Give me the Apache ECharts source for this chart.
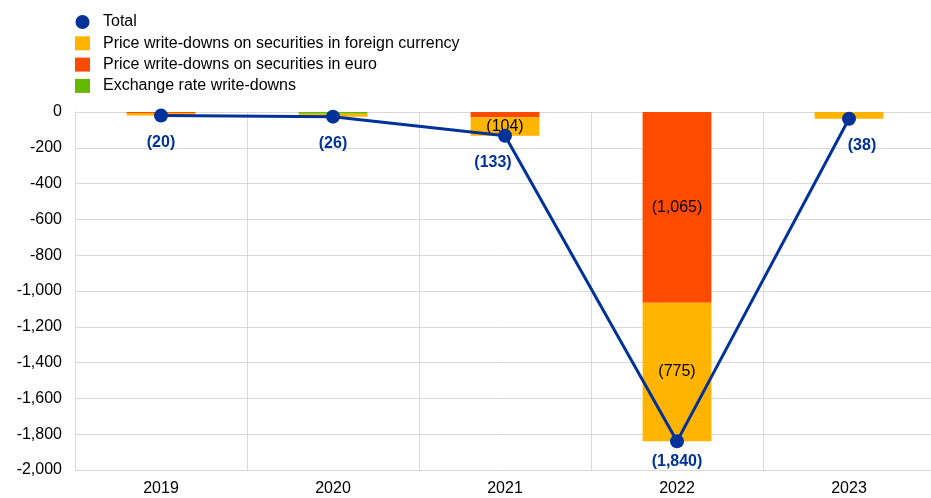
<!DOCTYPE html>
<html>
<head>
<meta charset="utf-8">
<script src="https://cdn.jsdelivr.net/npm/echarts@6/dist/echarts.min.js"></script>
<style>html,body{margin:0;padding:0;background:#fff}#c{width:931px;height:498px}</style>
</head>
<body>
<div id="c"></div>
<script>
var years = ['2019', '2020', '2021', '2022', '2023'];
var exchangeRate = [0, -10, 0, 0, 0];
var priceEuro = [-6, 0, -29, -1065, 0];
var priceForeign = [-14, -16, -104, -775, -38];
var total = [-20, -26, -133, -1840, -38];
var yTicks = [0, -200, -400, -600, -800, -1000, -1200, -1400, -1600, -1800, -2000];

var blue = '#003299', yellow = '#FFB400', red = '#FF4B00', green = '#65B800';
var font = 'Liberation Sans, Arial, sans-serif';

function fmt(v) {
  return '(' + Math.abs(v).toLocaleString('en-US') + ')';
}
var totalLabelPos = [
  {offset: [0, 0]}, {offset: [0, 0]}, {offset: [-12, 0]}, {offset: [0, -7]}, {offset: [13, 0]}
];

var chart = echarts.init(document.getElementById('c'), null, {renderer: 'canvas'});
chart.setOption({
  animation: false,
  textStyle: {fontFamily: font},
  legend: {
    orient: 'vertical', left: 70, top: 9, itemGap: 5.3, itemWidth: 15, itemHeight: 14,
    textStyle: {fontSize: 16, color: '#000', fontFamily: font, padding: [0, 0, 0, 8]},
    data: [
      {name: 'Total', icon: 'circle'},
      {name: 'Price write-downs on securities in foreign currency', icon: 'rect'},
      {name: 'Price write-downs on securities in euro', icon: 'rect'},
      {name: 'Exchange rate write-downs', icon: 'rect'}
    ]
  },
  grid: {left: 75, width: 860, top: 112, bottom: 28, outerBoundsMode: 'none', containLabel: false},
  xAxis: {
    type: 'category', data: years, position: 'bottom',
    axisLine: {show: true, lineStyle: {color: '#d9d9d9'}},
    axisTick: {show: false},
    splitLine: {show: true, lineStyle: {color: '#d9d9d9'}},
    axisLabel: {fontSize: 16, color: '#000', fontFamily: font, margin: 11}
  },
  yAxis: {
    type: 'value', min: -2000, max: 0, interval: 200,
    axisLine: {show: true, lineStyle: {color: '#d9d9d9'}},
    axisTick: {show: false},
    splitLine: {lineStyle: {color: '#d9d9d9'}},
    axisLabel: {fontSize: 16, color: '#000', fontFamily: font, margin: 13,
      formatter: function (v) { return v.toLocaleString('en-US'); }}
  },
  series: [
    {name: 'Exchange rate write-downs', type: 'bar', stack: 's', data: exchangeRate,
      barWidth: '40%', itemStyle: {color: green}},
    {name: 'Price write-downs on securities in euro', type: 'bar', stack: 's', data: priceEuro,
      barWidth: '40%', itemStyle: {color: red},
      label: {show: true, position: 'inside', color: '#000', fontSize: 16, fontFamily: font,
        formatter: function (p) { return p.dataIndex === 3 ? fmt(p.value) : ''; }}},
    {name: 'Price write-downs on securities in foreign currency', type: 'bar', stack: 's', data: priceForeign,
      barWidth: '40%', itemStyle: {color: yellow},
      label: {show: true, position: 'inside', color: '#000', fontSize: 16, fontFamily: font,
        formatter: function (p) { return (p.dataIndex === 2 || p.dataIndex === 3) ? fmt(p.value) : ''; }}},
    {name: 'Total', type: 'line', data: total.map(function (v, i) {
        return {value: v, label: totalLabelPos[i]};
      }),
      z: 5, symbol: 'circle', symbolSize: 14, color: blue,
      lineStyle: {color: blue, width: 3}, itemStyle: {color: blue},
      label: {show: true, position: 'bottom', distance: 12, color: blue, fontWeight: 'bold',
        fontSize: 16, fontFamily: font, formatter: function (p) { return fmt(p.value); }}}
  ]
});
</script>
</body>
</html>
